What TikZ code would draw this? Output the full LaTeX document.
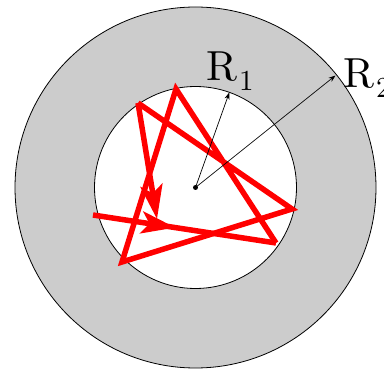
\documentclass[tikz,border=0pt]{standalone}
\usepackage{fontspec}
\newfontfamily\radfont{lmroman10-regular.otf}
\usepackage{tikz}
\usetikzlibrary{arrows.meta,decorations.markings}
\definecolor{walkred}{RGB}{255,0,0}
\definecolor{shellgray}{RGB}{204,204,204}

\newcommand{\radsub}[1]{\kern2pt\raisebox{-9.5pt}{\fontsize{29}{30}\selectfont #1}}

\tikzset{
  radiusarrow/.style={black,line width=0.7pt,-{Stealth[length=7pt,width=5pt]}},
  walk/.style={walkred,line width=5.5pt,line join=miter},
  radlabel/.style={inner sep=0pt,anchor=base west,font=\radfont\fontsize{42}{50}\selectfont}
}

\begin{document}
\begin{tikzpicture}[x=1pt,y=-1pt]
        \useasboundingbox (0,0) rectangle (384,369);
        \def\rin{101}
        \def\rout{180.5}
        \coordinate (O) at (195.5,187.5);
        \filldraw[fill=shellgray,draw=black,line width=0.8pt](O) circle (\rout);
        \filldraw[fill=white,draw=black,line width=0.8pt](O) circle (\rin);
        % random walk inside the inner disc
        \coordinate (w0) at (93,215);
        \coordinate (w1) at (276,243);
        \coordinate (w2) at (176,89);
        \coordinate (w3) at (122,262);
        \coordinate (w4) at (292,209);
        \coordinate (w5) at (138,103);
        \coordinate (w6) at (157,219);
        \draw[walk,postaction={decorate},
          decoration={markings,mark=at position 0.45 with {\arrow[walkred]{Stealth[length=34pt,width=22pt,inset=8pt]}}}]
          (w0) -- (w1);
        \draw[walk] (w1) -- (w2) -- (w3) -- (w4) -- (w5);
        \draw[walk,-{Stealth[length=34pt,width=22pt,inset=8pt]}] (w5) -- (w6);
        % radii
        \coordinate (r1) at (229.3,92.5);
        \coordinate (r2) at (335.5,75.5);
        \draw[radiusarrow] (O) -- (r1);
        \draw[radiusarrow] (O) -- (r2);
        \fill (O) circle (2.5);
        \node[radlabel] (lab1) at (206,81) {R\radsub{1}};
        \node[radlabel] (lab2) at (343,88) {R\radsub{2}};
      \end{tikzpicture}
\end{document}
